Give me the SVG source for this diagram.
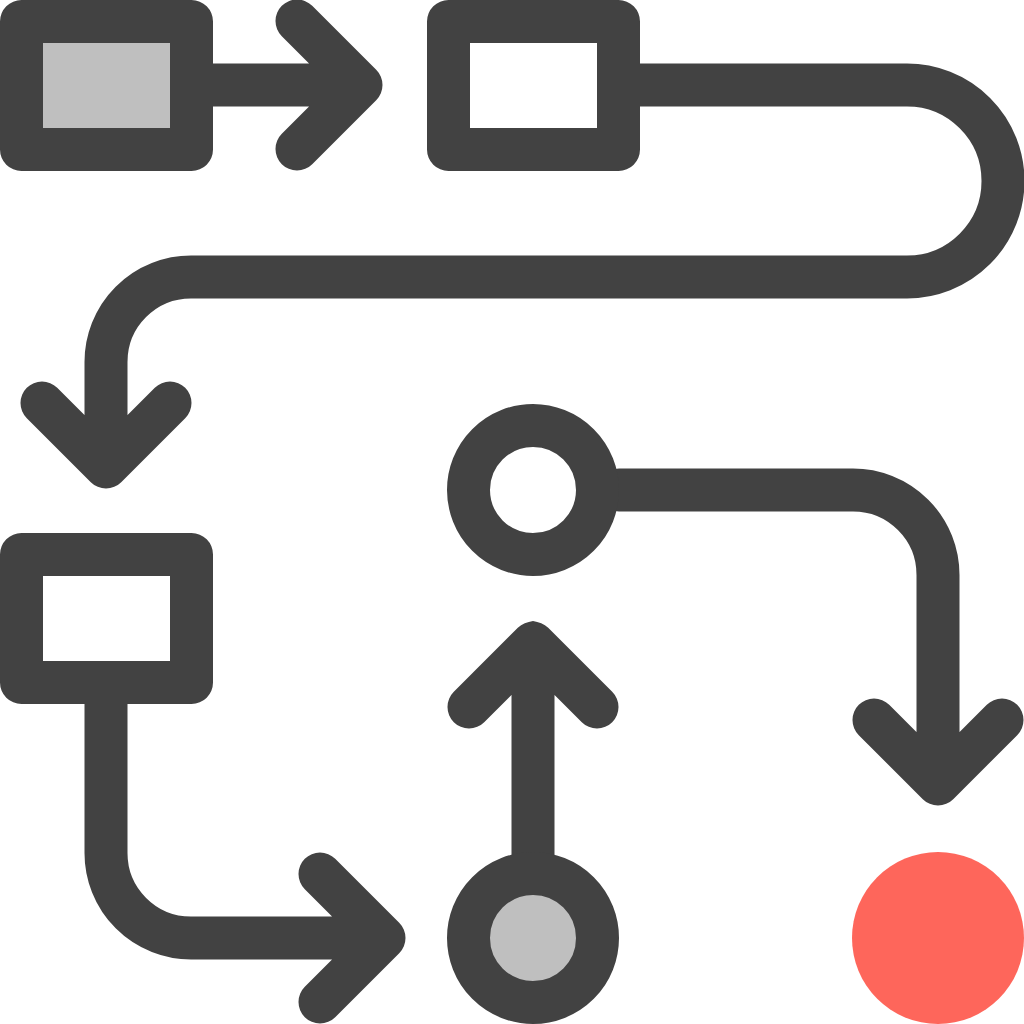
<svg xmlns="http://www.w3.org/2000/svg" width="1024" height="1024" viewBox="0 0 1024 1024">
<style>
.s{stroke:#424242;stroke-width:43;stroke-linejoin:round;stroke-linecap:round;fill:none}
.w{fill:#ffffff}
.g{fill:#bfbfbf}
</style>
<rect width="1024" height="1024" fill="#ffffff"/>
<g id="connectors">
<path class="s" d="M213 85H361M297 21L361 85L297 149"/>
<path class="s" d="M640 85H907A96 96 0 0 1 907 277H191A85 85 0 0 0 106 362V467M42 403L106 467L170 403"/>
<path class="s" d="M106 703V853A85 85 0 0 0 191 938H384M320 874L384 938L320 1002"/>
<path class="s" d="M533 874V643M469 707L533 643L597 707"/>
<path class="s" d="M619 490H853A85 85 0 0 1 938 575V784M874 720L938 784L1002 720"/>
</g>
<g id="box1"><rect class="s g" x="21.5" y="21.5" width="170" height="128"/></g>
<g id="box2"><rect class="s w" x="448.5" y="21.5" width="170" height="128"/></g>
<g id="box3"><rect class="s w" x="21.5" y="554.5" width="170" height="128"/></g>
<g id="circleTop"><circle class="s w" cx="533" cy="490" r="64.5"/></g>
<g id="circleBottom"><circle class="s g" cx="533" cy="938" r="64.5"/></g>
<g id="circleRed"><circle cx="938" cy="938" r="86" fill="#fe665b"/></g>
</svg>
